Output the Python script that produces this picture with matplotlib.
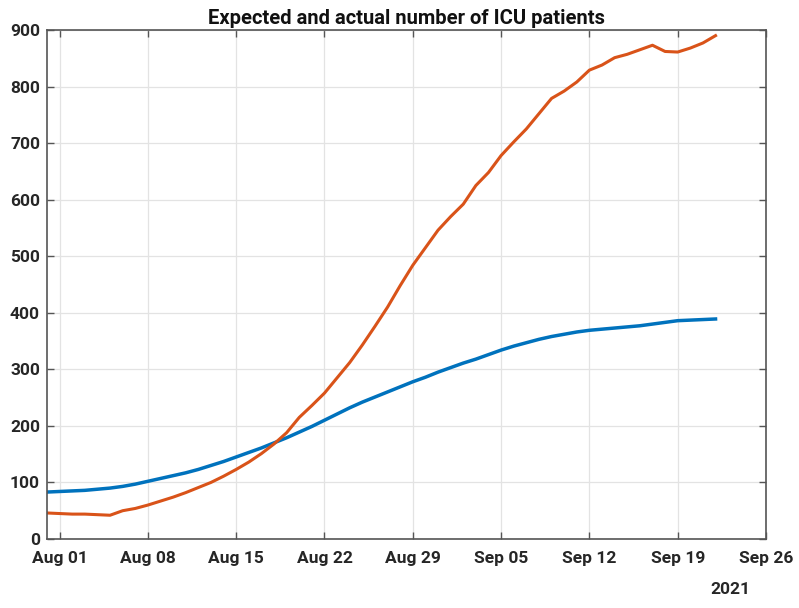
import matplotlib
matplotlib.use("Agg")
import matplotlib.pyplot as plt
import matplotlib.dates as mdates
import numpy as np
import pandas as pd

start_date = "2021-07-31"
end_date = "2021-09-22"

expected = [83, 84, 85, 86, 88, 90, 93, 97, 102, 107, 112, 117, 123, 130, 137, 145,
            153, 161, 170, 179, 189, 199, 210, 221, 232, 242, 251, 260, 269, 278, 286,
            295, 303, 311, 318, 326, 334, 341, 347, 353, 358, 362, 366, 369, 371, 373,
            375, 377, 380, 383, 386, 387, 388, 389]
actual = [46, 45, 44, 44, 43, 42, 50, 54, 60, 67, 74, 82, 91, 100, 111, 123,
          136, 151, 168, 188, 215, 236, 258, 285, 312, 343, 376, 410, 448, 484, 515,
          546, 570, 592, 625, 648, 678, 702, 725, 752, 779, 792, 808, 829, 838, 851,
          857, 865, 873, 862, 861, 868, 877, 890]

dates = pd.date_range(start_date, end_date, freq="D")
xtick_dates = pd.date_range("2021-08-01", "2021-09-26", freq="7D")
yticks = [0, 100, 200, 300, 400, 500, 600, 700, 800, 900]
title = "Expected and actual number of ICU patients"

plt.rcParams['font.family'] = ['Roboto', 'DejaVu Sans']

fig = plt.figure(figsize=(7.99, 6.08), dpi=100)
ax = fig.add_axes([0.0588, 0.1135, 0.8999, 0.8372])

ax.plot(dates, expected, color="#0072BD", lw=2.5)
ax.plot(dates, actual, color="#D95319", lw=2.2)

ax.set_xlim(pd.Timestamp("2021-07-31"), pd.Timestamp("2021-09-26"))
ax.set_ylim(0, 900)
ax.set_xticks(xtick_dates)
ax.xaxis.set_major_formatter(mdates.DateFormatter("%b %d"))
ax.set_yticks(yticks)
ax.grid(True, color="#e3e3e3", lw=0.9)
ax.set_axisbelow(True)
ax.tick_params(direction="in", length=5, width=1, top=True, right=True,
               labelsize=12.5, color="#555555")
ax.tick_params(axis="x", pad=9)
ax.tick_params(axis="y", pad=5)
for lab in ax.get_xticklabels() + ax.get_yticklabels():
    lab.set_fontweight("bold")
    lab.set_color("#262626")
for s in ax.spines.values():
    s.set_color("#555555")
    s.set_linewidth(1.2)

ax.set_title(title, fontsize=14.5, fontweight="bold", color="#111111", pad=4)
ax.text(0.95, -0.1, "2021", transform=ax.transAxes, ha="center", va="center",
        fontsize=12.5, fontweight="bold", color="#262626")

fig.savefig("out.png", dpi=100)
